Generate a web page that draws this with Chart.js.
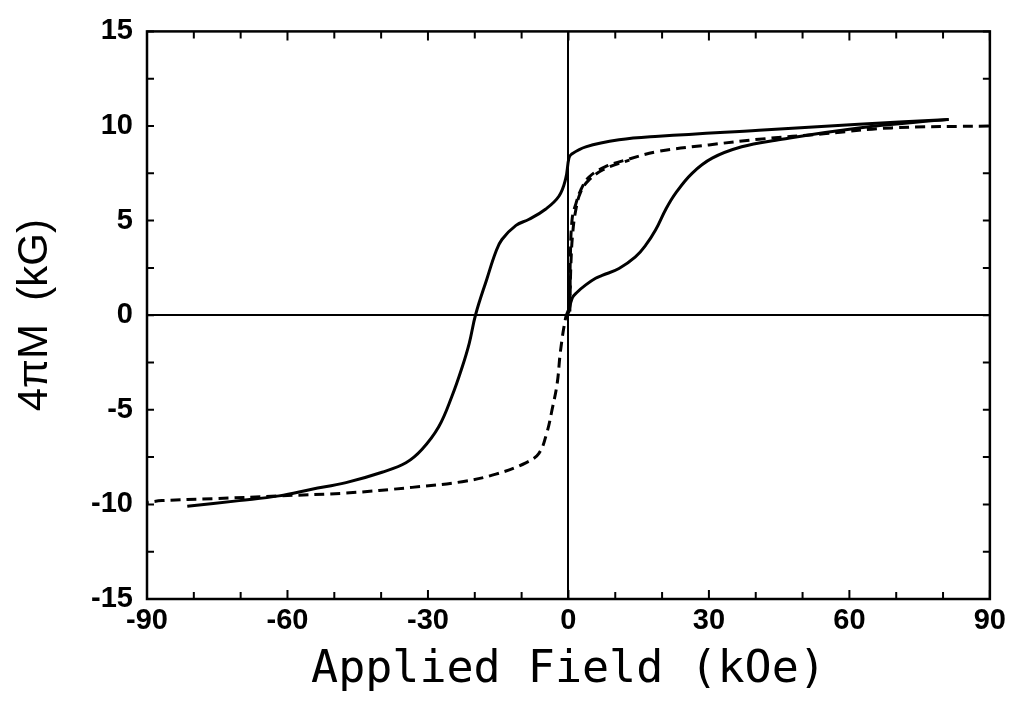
<!DOCTYPE html>
<html>
<head>
<meta charset="utf-8">
<script src="https://cdn.jsdelivr.net/npm/chart.js@4.4.0/dist/chart.umd.min.js"></script>
<style>
  html, body { margin: 0; padding: 0; background: #fff; }
  #wrap { width: 1011px; height: 706px; }
</style>
</head>
<body>
<div id="wrap"><canvas id="loop"></canvas></div>
<script>
// solid: virgin curve from the origin up to +82 kOe
var virginX = [0, 0.8, 1.8, 3.7, 5.8, 7.2, 10.8, 14.3, 16.5, 18.6, 20.8, 22.9, 26.4, 30.7, 37, 44.3, 62, 81.2];
var virginY = [0.1, 0.9, 1.2, 1.6, 1.95, 2.1, 2.47, 3.08, 3.7, 4.5, 5.6, 6.45, 7.5, 8.3, 8.9, 9.25, 9.9, 10.35];

// solid: descending branch +82 -> -82 kOe
var solidDownX = [81.2, 62, 40.7, 19.3, 10.8, 3.7, 0.6, 0.1, -0.6, -2, -4.9, -8.4, -11.2, -14.2, -15.5, -17.4, -19.8, -21.2, -22.7, -24.9, -27.7, -31.3, -34.7, -39.8, -47.5, -54.8, -61.8, -70.3, -81.4];
var solidDownY = [10.35, 10.09, 9.78, 9.46, 9.27, 8.9, 8.5, 8.3, 7.2, 6.3, 5.6, 5.07, 4.75, 4.0, 3.35, 1.93, 0.05, -1.5, -2.75, -4.3, -5.9, -7.1, -7.8, -8.3, -8.85, -9.2, -9.55, -9.8, -10.1];

// dashed: descending branch +90 -> -90 kOe
var dashDownX = [89.8, 69, 55, 40.7, 30, 19.3, 12.9, 7.9, 4.4, 2.6, 1.6, 0.8, 0.4, 0.2, -0.6, -1.7, -2.4, -3.5, -4.6, -6.3, -9.1, -15.5, -22.7, -33.4, -47.5, -61.8, -76, -86.8, -90];
var dashDownY = [10.0, 9.9, 9.6, 9.3, 9.0, 8.66, 8.25, 7.85, 7.3, 6.6, 5.9, 5.1, 3.0, 0.5, -0.14, -1.9, -3.6, -5.0, -6.2, -7.3, -7.8, -8.4, -8.8, -9.1, -9.4, -9.55, -9.7, -9.8, -9.9];

// dashed: inner rising branch near the origin
var dashUpX = [0.3, 0.5, 0.9, 1.6, 2.6, 4.2, 7.5, 13];
var dashUpY = [0.2, 2.5, 4.3, 5.6, 6.5, 7.1, 7.7, 8.2];

var xTicks = [-90, -60, -30, 0, 30, 60, 90];
var yTicks = [-15, -10, -5, 0, 5, 10, 15];

function pts(xs, ys) {
    var out = [];
    for (let i = 0; i < xs.length; i++) {
        out.push({x: xs[i], y: ys[i]});
    }
    return out;
}

function line(xs, ys, dashed) {
    return {
        data: pts(xs, ys),
        showLine: true,
        borderColor: "#000",
        borderWidth: 3,
        borderDash: dashed ? [10, 6] : [],
        pointRadius: 0,
        fill: false,
        tension: 0.4
    };
}

// frame + inward tick marks on all four sides
var frameTicks = {
    id: "frameTicks",
    afterDatasetsDraw: function(chart) {
        var c = chart.ctx, a = chart.chartArea;
        var xs = chart.scales.x, ys = chart.scales.y;
        c.save();
        c.strokeStyle = "#000";
        c.lineWidth = 2.5;
        c.strokeRect(a.left, a.top, a.right - a.left, a.bottom - a.top);
        c.lineWidth = 2;
        c.beginPath();
        xs.ticks.forEach(function(t) {
            var px = xs.getPixelForValue(t.value);
            var len = xTicks.indexOf(t.value) >= 0 ? 9 : 7;
            c.moveTo(px, a.bottom); c.lineTo(px, a.bottom - len);
            c.moveTo(px, a.top); c.lineTo(px, a.top + len);
        });
        ys.ticks.forEach(function(t) {
            var py = ys.getPixelForValue(t.value);
            c.moveTo(a.left, py); c.lineTo(a.left + 7, py);
            c.moveTo(a.right, py); c.lineTo(a.right - 7, py);
        });
        c.stroke();
        c.restore();
    }
};

var zeroLine = function(ctx) {
    return ctx.tick && ctx.tick.value === 0 ? "#000" : "rgba(0,0,0,0)";
};

new Chart(document.getElementById("loop"), {
    type: "scatter",
    data: {
        datasets: [
            line(virginX, virginY, false),
            line(solidDownX, solidDownY, false),
            line(dashDownX, dashDownY, true),
            line(dashUpX, dashUpY, true)
        ]
    },
    options: {
        responsive: true,
        maintainAspectRatio: false,
        animation: false,
        layout: {padding: {top: 25, right: 19, left: 0, bottom: 0}},
        plugins: {legend: {display: false}, tooltip: {enabled: false}},
        scales: {
            x: {
                type: "linear",
                min: -90,
                max: 90,
                afterFit: function(s) { s.height = 107; },
                grid: {color: zeroLine, lineWidth: 2, drawTicks: false},
                border: {display: false},
                ticks: {
                    stepSize: 10,
                    autoSkip: false,
                    maxRotation: 0,
                    padding: 5,
                    color: "#000",
                    font: {family: "Liberation Sans", size: 29, weight: "bold"},
                    callback: function(v) { return xTicks.indexOf(v) >= 0 ? String(v) : ""; }
                },
                title: {
                    display: true,
                    text: "Applied Field (kOe)",
                    color: "#000",
                    font: {family: "DejaVu Sans Mono", size: 45},
                    padding: {top: 0, bottom: 9}
                }
            },
            y: {
                type: "linear",
                min: -15,
                max: 15,
                afterFit: function(s) { s.width = 147; },
                grid: {color: zeroLine, lineWidth: 2, drawTicks: false},
                border: {display: false},
                ticks: {
                    stepSize: 2.5,
                    autoSkip: false,
                    padding: 14,
                    color: "#000",
                    font: {family: "Liberation Sans", size: 29, weight: "bold"},
                    callback: function(v) { return yTicks.indexOf(v) >= 0 ? String(v) : ""; }
                },
                title: {
                    display: true,
                    text: "4\u03c0M  (kG)",
                    color: "#000",
                    font: {family: "Liberation Sans", size: 42},
                    padding: {top: 10, bottom: 0}
                }
            }
        }
    },
    plugins: [frameTicks]
});
</script>
</body>
</html>
